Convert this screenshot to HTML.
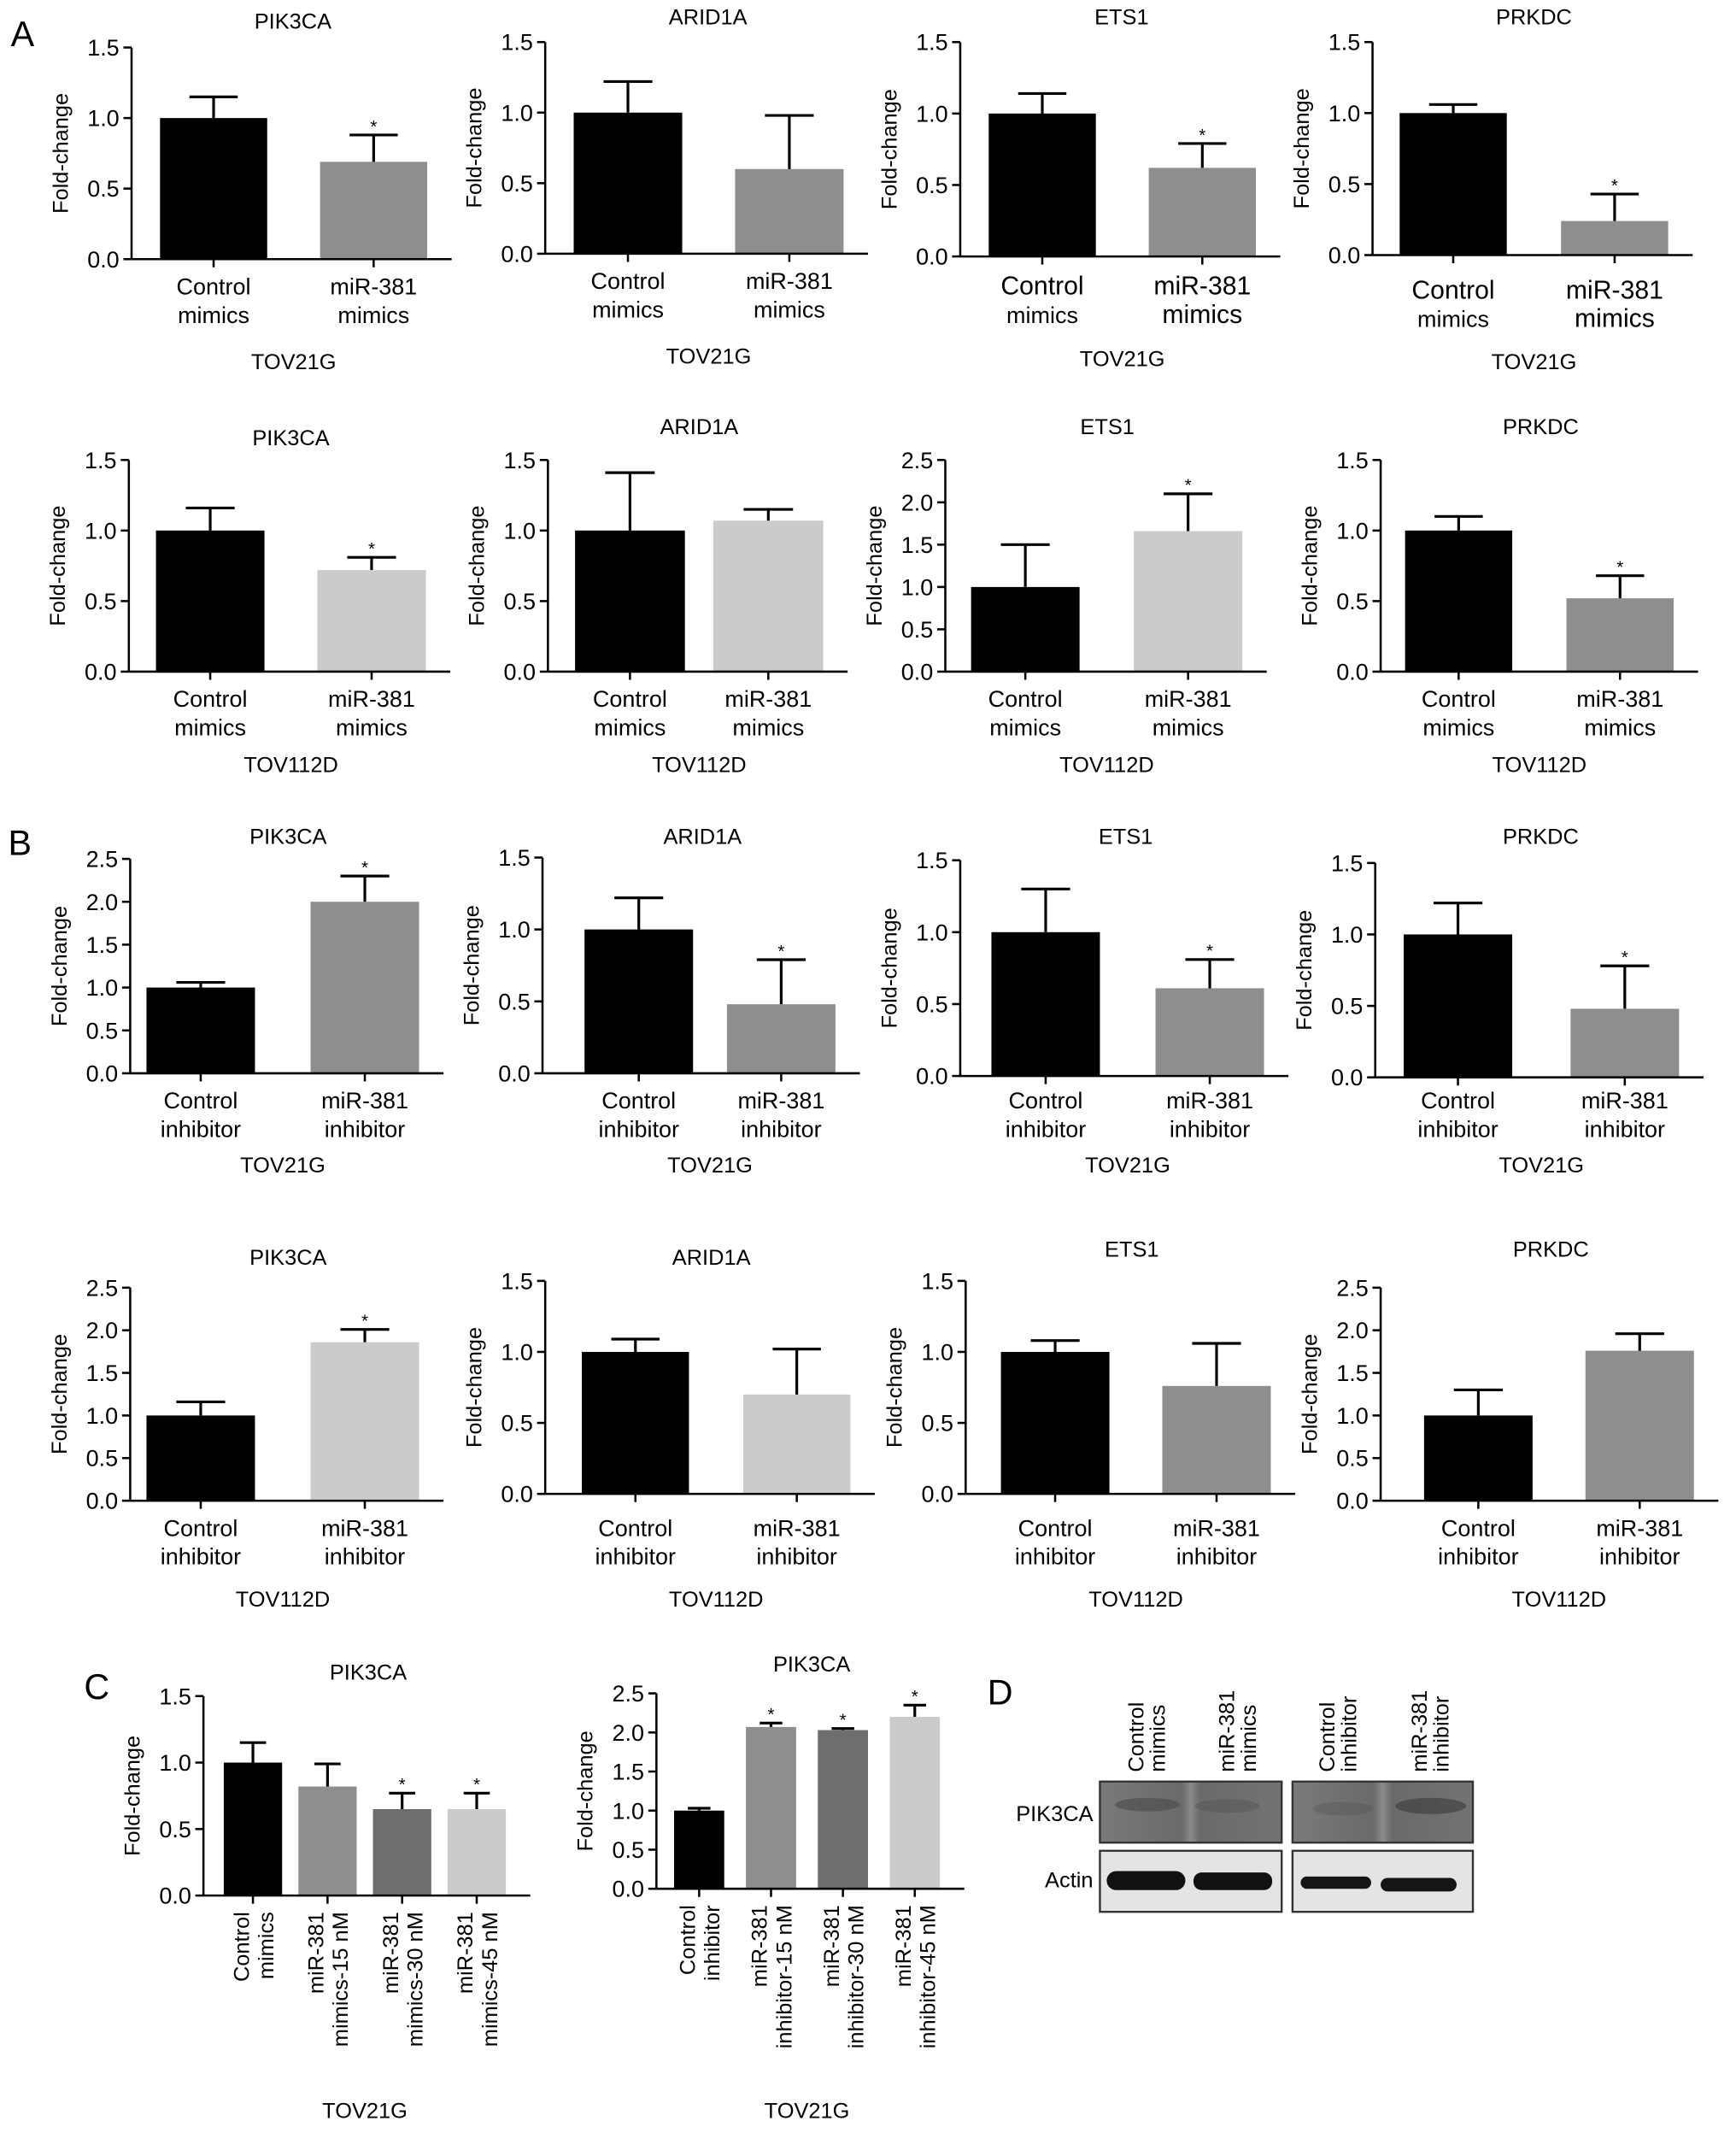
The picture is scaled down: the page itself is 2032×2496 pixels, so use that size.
<!DOCTYPE html>
<html><head><meta charset="utf-8">
<style>
html,body{margin:0;padding:0;background:#fff;}
svg{display:block;font-family:"Liberation Sans",Arial,sans-serif;}
</style></head>
<body>
<svg id="fig" width="2032" height="2496" viewBox="0 0 1280 1572" preserveAspectRatio="none" xmlns="http://www.w3.org/2000/svg">
<rect x="0" y="0" width="1280" height="1572" fill="#fff"/>
<text x="8" y="34" font-size="26">A</text>
<text x="6" y="630" font-size="26">B</text>
<text x="62" y="1252" font-size="26">C</text>
<text x="728" y="1256" font-size="26">D</text>
<g id="charts"></g>
<g id="blot">
  <defs>
    <linearGradient id="lanes" x1="0" x2="1" y1="0" y2="0">
      <stop offset="0" stop-color="#7a7a7a"/><stop offset="0.45" stop-color="#6a6a6a"/>
      <stop offset="0.5" stop-color="#8a8a8a"/><stop offset="0.55" stop-color="#6a6a6a"/><stop offset="1" stop-color="#737373"/>
    </linearGradient>
  </defs>
  <text x="806" y="1342" font-size="16" text-anchor="end">PIK3CA</text>
  <text x="806" y="1391" font-size="16" text-anchor="end">Actin</text>
  <rect x="811" y="1313" width="134" height="45" fill="url(#lanes)" stroke="#333" stroke-width="1.5"/>
  <rect x="953" y="1313" width="133" height="45" fill="url(#lanes)" stroke="#333" stroke-width="1.5"/>
  <ellipse cx="846" cy="1330" rx="24" ry="5" fill="#4a4a4a" opacity="0.6"/>
  <ellipse cx="905" cy="1331" rx="24" ry="5" fill="#555" opacity="0.5"/>
  <ellipse cx="990" cy="1333" rx="22" ry="5" fill="#555" opacity="0.4"/>
  <ellipse cx="1055" cy="1331" rx="26" ry="6" fill="#3a3a3a" opacity="0.6"/>
  <rect x="811" y="1364" width="134" height="45" fill="#e4e4e4" stroke="#333" stroke-width="1.5"/>
  <rect x="953" y="1364" width="133" height="45" fill="#e4e4e4" stroke="#333" stroke-width="1.5"/>
  <rect x="816" y="1379" width="58" height="14" rx="7" fill="#111"/>
  <rect x="880" y="1380" width="58" height="13" rx="6" fill="#111"/>
  <rect x="959" y="1383" width="52" height="9" rx="4.5" fill="#151515"/>
  <rect x="1018" y="1384" width="56" height="10" rx="5" fill="#151515"/>
  <g font-size="16">
    <text transform="translate(843,1306) rotate(-90)">Control</text>
    <text transform="translate(859,1306) rotate(-90)">mimics</text>
    <text transform="translate(910,1306) rotate(-90)">miR-381</text>
    <text transform="translate(926,1306) rotate(-90)">mimics</text>
    <text transform="translate(984,1306) rotate(-90)">Control</text>
    <text transform="translate(1000,1306) rotate(-90)">inhibitor</text>
    <text transform="translate(1052,1306) rotate(-90)">miR-381</text>
    <text transform="translate(1068,1306) rotate(-90)">inhibitor</text>
  </g>
</g>
</svg>
<script>
// ---- data (values, errors, significance, tick labels) ----
const a1Vals=[1.0,0.69], a1Errs=[0.15,0.19], a1Sig=[0,1];
const a2Vals=[1.0,0.60], a2Errs=[0.22,0.38], a2Sig=[0,0];
const a3Vals=[1.0,0.62], a3Errs=[0.14,0.17], a3Sig=[0,1];
const a4Vals=[1.0,0.24], a4Errs=[0.06,0.19], a4Sig=[0,1];
const a5Vals=[1.0,0.72], a5Errs=[0.16,0.09], a5Sig=[0,1];
const a6Vals=[1.0,1.07], a6Errs=[0.41,0.08], a6Sig=[0,0];
const a7Vals=[1.0,1.66], a7Errs=[0.50,0.44], a7Sig=[0,1];
const a8Vals=[1.0,0.52], a8Errs=[0.10,0.16], a8Sig=[0,1];
const b1Vals=[1.0,2.0], b1Errs=[0.06,0.30], b1Sig=[0,1];
const b2Vals=[1.0,0.48], b2Errs=[0.22,0.31], b2Sig=[0,1];
const b3Vals=[1.0,0.61], b3Errs=[0.30,0.20], b3Sig=[0,1];
const b4Vals=[1.0,0.48], b4Errs=[0.22,0.30], b4Sig=[0,1];
const b5Vals=[1.0,1.86], b5Errs=[0.16,0.15], b5Sig=[0,1];
const b6Vals=[1.0,0.70], b6Errs=[0.09,0.32], b6Sig=[0,0];
const b7Vals=[1.0,0.76], b7Errs=[0.08,0.30], b7Sig=[0,0];
const b8Vals=[1.0,1.76], b8Errs=[0.30,0.20], b8Sig=[0,0];
const c1Vals=[1.0,0.82,0.65,0.65], c1Errs=[0.15,0.17,0.12,0.12], c1Sig=[0,0,1,1];
const c2Vals=[1.0,2.07,2.03,2.20], c2Errs=[0.03,0.05,0.02,0.15], c2Sig=[0,1,1,1];
const ticks15=["0.0","0.5","1.0","1.5"];
const ticks25=["0.0","0.5","1.0","1.5","2.0","2.5"];
const catsMimics=[["Control","mimics"],["miR-381","mimics"]];
const catsInhib=[["Control","inhibitor"],["miR-381","inhibitor"]];
const catsC1=[["Control","mimics"],["miR-381","mimics-15 nM"],["miR-381","mimics-30 nM"],["miR-381","mimics-45 nM"]];
const catsC2=[["Control","inhibitor"],["miR-381","inhibitor-15 nM"],["miR-381","inhibitor-30 nM"],["miR-381","inhibitor-45 nM"]];

const BLK="#000", MID="#8e8e8e", LIT="#cbcbcb", DRK="#6e6e6e";
const charts=[
 {id:"a1",t:"PIK3CA",v:a1Vals,e:a1Errs,s:a1Sig,tk:ticks15,c:catsMimics,cell:"TOV21G",ax:97,y0:191,yt:35,b0:118,w:79,p:118,ty:21,ly:[217,238],cy:272,col:[BLK,MID]},
 {id:"a2",t:"ARID1A",v:a2Vals,e:a2Errs,s:a2Sig,tk:ticks15,c:catsMimics,cell:"TOV21G",ax:402,y0:187,yt:31,b0:423,w:80,p:119,ty:18,ly:[213,234],cy:268,col:[BLK,MID]},
 {id:"a3",t:"ETS1",v:a3Vals,e:a3Errs,s:a3Sig,tk:ticks15,c:catsMimics,cell:"TOV21G",ax:708,y0:189,yt:31,b0:729,w:79,p:118,ty:18,ly:[217,238],cy:270,col:[BLK,MID],big:1},
 {id:"a4",t:"PRKDC",v:a4Vals,e:a4Errs,s:a4Sig,tk:ticks15,c:catsMimics,cell:"TOV21G",ax:1012,y0:188,yt:31,b0:1032,w:79,p:119,ty:18,ly:[220,241],cy:272,col:[BLK,MID],big:1},
 {id:"a5",t:"PIK3CA",v:a5Vals,e:a5Errs,s:a5Sig,tk:ticks15,c:catsMimics,cell:"TOV112D",ax:95,y0:495,yt:339,b0:115,w:80,p:119,ty:328,ly:[521,542],cy:569,col:[BLK,LIT]},
 {id:"a6",t:"ARID1A",v:a6Vals,e:a6Errs,s:a6Sig,tk:ticks15,c:catsMimics,cell:"TOV112D",ax:404,y0:495,yt:339,b0:424,w:81,p:102,ty:320,ly:[521,542],cy:569,col:[BLK,LIT]},
 {id:"a7",t:"ETS1",v:a7Vals,e:a7Errs,s:a7Sig,tk:ticks25,c:catsMimics,cell:"TOV112D",ax:697,y0:495,yt:339,b0:716,w:80,p:120,ty:320,ly:[521,542],cy:569,col:[BLK,LIT]},
 {id:"a8",t:"PRKDC",v:a8Vals,e:a8Errs,s:a8Sig,tk:ticks15,c:catsMimics,cell:"TOV112D",ax:1018,y0:495,yt:339,b0:1036,w:79,p:119,ty:320,ly:[521,542],cy:569,col:[BLK,MID]},
 {id:"b1",t:"PIK3CA",v:b1Vals,e:b1Errs,s:b1Sig,tk:ticks25,c:catsInhib,cell:"TOV21G",ax:96,y0:791,yt:633,b0:108,w:80,p:121,ty:622,ly:[817,838],cy:864,col:[BLK,MID]},
 {id:"b2",t:"ARID1A",v:b2Vals,e:b2Errs,s:b2Sig,tk:ticks15,c:catsInhib,cell:"TOV21G",ax:400,y0:791,yt:632,b0:431,w:80,p:105,ty:622,ly:[817,838],cy:864,col:[BLK,MID]},
 {id:"b3",t:"ETS1",v:b3Vals,e:b3Errs,s:b3Sig,tk:ticks15,c:catsInhib,cell:"TOV21G",ax:708,y0:793,yt:634,b0:731,w:80,p:121,ty:622,ly:[817,838],cy:864,col:[BLK,MID]},
 {id:"b4",t:"PRKDC",v:b4Vals,e:b4Errs,s:b4Sig,tk:ticks15,c:catsInhib,cell:"TOV21G",ax:1014,y0:794,yt:636,b0:1035,w:80,p:123,ty:622,ly:[817,838],cy:864,col:[BLK,MID]},
 {id:"b5",t:"PIK3CA",v:b5Vals,e:b5Errs,s:b5Sig,tk:ticks25,c:catsInhib,cell:"TOV112D",ax:96,y0:1106,yt:949,b0:108,w:80,p:121,ty:932,ly:[1132,1153],cy:1184,col:[BLK,LIT]},
 {id:"b6",t:"ARID1A",v:b6Vals,e:b6Errs,s:b6Sig,tk:ticks15,c:catsInhib,cell:"TOV112D",ax:402,y0:1101,yt:944,b0:429,w:79,p:119,ty:932,ly:[1132,1153],cy:1184,col:[BLK,LIT]},
 {id:"b7",t:"ETS1",v:b7Vals,e:b7Errs,s:b7Sig,tk:ticks15,c:catsInhib,cell:"TOV112D",ax:712,y0:1101,yt:944,b0:738,w:80,p:119,ty:926,ly:[1132,1153],cy:1184,col:[BLK,MID]},
 {id:"b8",t:"PRKDC",v:b8Vals,e:b8Errs,s:b8Sig,tk:ticks25,c:catsInhib,cell:"TOV112D",ax:1018,y0:1106,yt:949,b0:1050,w:80,p:119,ty:926,ly:[1132,1153],cy:1184,col:[BLK,MID]},
 {id:"c1",t:"PIK3CA",v:c1Vals,e:c1Errs,s:c1Sig,tk:ticks15,c:catsC1,cell:"TOV21G",ax:150,y0:1397,yt:1250,b0:165,w:43,p:55,ty:1238,rot:1,cy:1561,col:[BLK,MID,DRK,LIT]},
 {id:"c2",t:"PIK3CA",v:c2Vals,e:c2Errs,s:c2Sig,tk:ticks25,c:catsC2,cell:"TOV21G",ax:484,y0:1392,yt:1248,b0:497,w:37,p:53,ty:1232,rot:1,cy:1561,col:[BLK,MID,DRK,LIT]}
];
const NS="http://www.w3.org/2000/svg";
const root=document.getElementById("charts");
function mk(tag,attrs,parent,txt){const el=document.createElementNS(NS,tag);for(const k in attrs)el.setAttribute(k,attrs[k]);if(txt!==undefined)el.textContent=txt;parent.appendChild(el);return el;}
charts.forEach(ch=>{
  const g=mk("g",{},root);
  
  
  const maxV=parseFloat(ch.tk[ch.tk.length-1]);
  const y=v=>ch.y0-(v/maxV)*(ch.y0-ch.yt);
  const n=ch.v.length;
  const xEnd=ch.b0+(n-1)*ch.p+ch.w+18;
  const lastC=ch.b0+(n-1)*ch.p+ch.w;
  const tt=mk("text",{x:(ch.ax+lastC)/2+10,y:ch.ty,"font-size":16,"text-anchor":"middle"},g,ch.t);
  
  
  const ya=mk("line",{x1:ch.ax,y1:ch.yt,x2:ch.ax,y2:ch.y0,stroke:"#000","stroke-width":1.6},g);
  
  
  ch.tk.forEach(t=>{
    const yy=y(parseFloat(t));
    mk("line",{x1:ch.ax-6,y1:yy,x2:ch.ax,y2:yy,stroke:"#000","stroke-width":1.6},g);
    const tl=mk("text",{x:ch.ax-9,y:yy+6,"font-size":17,"text-anchor":"end"},g,t);
    
    
  });
  const yt=mk("text",{transform:`translate(${ch.ax-47},${(ch.yt+ch.y0)/2}) rotate(-90)`,"font-size":16,"text-anchor":"middle"},g,"Fold-change");
  
  
  ch.v.forEach((v,i)=>{
    const x0=ch.b0+i*ch.p, cx=x0+ch.w/2;
    const b=mk("rect",{x:x0,y:y(v),width:ch.w,height:ch.y0-y(v),fill:ch.col[i]},g);
    
    
    const top=y(v+ch.e[i]), cw=ch.w*0.45;
    const eb=mk("path",{d:`M${cx},${y(v)}V${top}M${cx-cw/2},${top}H${cx+cw/2}`,stroke:"#000","stroke-width":2,fill:"none"},g);
    
    
    if(ch.s[i]){
      const st=mk("text",{x:cx,y:top-2,"font-size":13,"text-anchor":"middle"},g,"*");
      
      
    }
    mk("line",{x1:cx,y1:ch.y0,x2:cx,y2:ch.y0+6,stroke:"#000","stroke-width":1.6},g);
    const lab=ch.c[i];
    if(ch.rot){
      const l1=mk("text",{transform:`translate(${cx-3},${ch.y0+12}) rotate(-90)`,"font-size":16,"text-anchor":"end"},g,lab[0]);
      
      
      const l2=mk("text",{transform:`translate(${cx+15},${ch.y0+12}) rotate(-90)`,"font-size":16,"text-anchor":"end"},g,lab[1]);
      
      
    } else {
      const l1=mk("text",{x:cx,y:ch.ly[0],"font-size":(i==1&&ch.big)?19:(ch.big?19:17),"text-anchor":"middle"},g,lab[0]);
      
      
      const l2=mk("text",{x:cx,y:ch.ly[1],"font-size":(i==1&&ch.big)?19:17,"text-anchor":"middle"},g,lab[1]);
      
      
    }
  });
  const xa=mk("line",{x1:ch.ax,y1:ch.y0,x2:xEnd,y2:ch.y0,stroke:"#000","stroke-width":1.6},g);
  
  
  const cl=mk("text",{x:(ch.b0+lastC)/2,y:ch.cy,"font-size":16,"text-anchor":"middle"},g,ch.cell);
  
  
});
</script>
</body></html>
